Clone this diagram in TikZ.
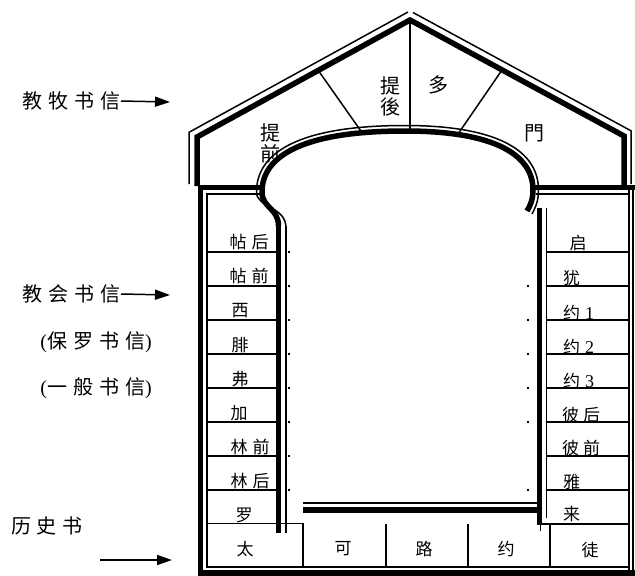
\documentclass[tikz,border=0pt]{standalone}
\usepackage{fontspec}
\setmainfont{Liberation Serif}
\newfontfamily\cjk{Noto Sans CJK SC}
\usetikzlibrary{arrows.meta}
\begin{document}
\begin{tikzpicture}[x=1pt,y=-1pt,
  wall/.style={line width=5.5pt, line join=miter},
  fine/.style={line width=1.5pt},
  rowl/.style={line width=1.4pt},
  lbl/.style={font=\cjk\fontsize{17}{17}\selectfont, inner sep=0pt},
  rooflbl/.style={font=\cjk\fontsize{20}{21}\selectfont, inner sep=0pt, align=center},
  side/.style={font=\cjk\fontsize{20}{20}\selectfont, inner sep=0pt},
  arr/.style={line width=1.5pt, -{Triangle[length=15pt,width=10pt]}},
  dotmark/.style={fill=black, minimum size=1.8pt, inner sep=0pt}]
\useasboundingbox (0,0) rectangle (635,576);
% roof
\draw[wall] (197,186) -- (197,137) -- (410,20) -- (624,136) -- (624,186);
\draw[fine] (189,184) -- (189,132.3) -- (408,12);
\draw[fine] (413,12.5) -- (631,130.8) -- (631,184);
% roof dividers
\draw[fine] (318,70) -- (363,134);
\draw[fine] (410,20) -- (410,132);
\draw[fine] (502,70) -- (458,134);
% main frame
\draw[wall] (263,187.5) -- (200.5,187.5) -- (200.5,573) -- (636,573);
\draw[wall] (533,187.5) -- (636,187.5);
\draw[fine] (629,190) -- (629,571);
\draw[fine] (633,190) -- (633,571);
\draw[fine] (264,194) -- (207,194) -- (207,567) -- (629,567);
\draw[fine] (536,194) -- (629,194);
% arch
\draw[wall] (278.5,226) .. controls (278.5,208) and (262,208) .. (262,192)
  .. controls (262,155) and (305,131) .. (405,131)
  .. controls (495,131) and (533,155) .. (533,190)
  .. controls (533,200) and (530,206) .. (527,211);
\draw[fine] (286,228) .. controls (286,206) and (256.5,208) .. (256.5,192)
  .. controls (256.5,151) and (302,125.5) .. (405,125.5)
  .. controls (498,125.5) and (538.5,151) .. (538.5,190)
  .. controls (538.5,202) and (535,208) .. (532,214);
% left column
\draw[wall] (278.5,224) -- (278.5,533);
\draw[fine] (286,226) -- (286,533);
\foreach \yy in {252,286,320,354,388,422,456,490}
  \draw[rowl] (207,\yy) -- (278,\yy);
\draw[fine] (207,523.5) -- (303,523.5) -- (303,567);
\foreach \yy in {252,286,320,354,388,422,456,490}
  \node[dotmark] at (289,\yy) {};
% right column
\draw[wall] (539.5,208) -- (539.5,523);
\draw[fine] (540.5,520) -- (540.5,531);
\draw[fine] (546.5,208) -- (546.5,518);
\foreach \yy in {252,286,320,354,388,422,456,490}
  \draw[rowl] (546,\yy) -- (629,\yy);
\foreach \yy in {286,320,354,388,422,490}
  \node[dotmark] at (528,\yy) {};
\draw[fine] (537,524) -- (629,524);
\draw[fine] (550,524) -- (550,567);
\draw[fine] (386,524) -- (386,567);
\draw[fine] (468,524) -- (468,567);
% bottom inner double line
\draw[fine] (303,503) -- (538,503);
\draw[wall] (303,510) -- (537,510);
% roof labels
\node[rooflbl] (tiqian) at (270,143.5) {提\\前};
\node[rooflbl] (tihou) at (390,96) {提\\後};
\node[rooflbl] (duo) at (438,85) {多};
\node[rooflbl] (men) at (534,133) {門};
% left column labels
\node[lbl] (l1) at (249,242) {帖\kern5pt 后};
\node[lbl] (l2) at (249,276) {帖\kern5pt 前};
\node[lbl] (l3) at (240,311) {西};
\node[lbl] (l4) at (240,345) {腓};
\node[lbl] (l5) at (240,379) {弗};
\node[lbl] (l6) at (239,413) {加};
\node[lbl] (l7) at (250,447) {林\kern5pt 前};
\node[lbl] (l8) at (250,481) {林\kern5pt 后};
\node[lbl] (l9) at (244,515) {罗};
\node[lbl] (b1) at (245,549) {太};
% right column labels
\node[lbl] (r1) at (578,243) {启};
\node[lbl, anchor=west] (r2) at (563,278) {犹};
\node[lbl, anchor=west] (r3) at (563,313) {约\kern5pt{\rmfamily\fontsize{18}{18}\selectfont 1}};
\node[lbl, anchor=west] (r4) at (563,347) {约\kern5pt{\rmfamily\fontsize{18}{18}\selectfont 2}};
\node[lbl, anchor=west] (r5) at (563,381) {约\kern5pt{\rmfamily\fontsize{18}{18}\selectfont 3}};
\node[lbl, anchor=west] (r6) at (562,415) {彼\kern4pt 后};
\node[lbl, anchor=west] (r7) at (562,448) {彼\kern4pt 前};
\node[lbl, anchor=west] (r8) at (563,482) {雅};
\node[lbl, anchor=west] (r9) at (563,514) {来};
% bottom row labels
\node[lbl] (b2) at (343,549) {可};
\node[lbl] (b3) at (424,549) {路};
\node[lbl] (b4) at (506,549) {约};
\node[lbl] (b5) at (590,550) {徒};
% side labels and arrows
\node[side, anchor=east] (s1) at (121,101) {教\kern6pt 牧\kern6pt 书\kern6pt 信};
\coordinate (s1end) at (170,102);
\draw[arr] (s1.east) -- (s1end);
\node[side, anchor=east] (s2) at (121,294) {教\kern6pt 会\kern6pt 书\kern6pt 信};
\coordinate (s2end) at (170,295);
\draw[arr] (s2.east) -- (s2end);
\node[side] (s3) at (96,342) {{\rmfamily(}保\kern6pt 罗\kern6pt 书\kern6pt 信{\rmfamily)}};
\node[side] (s4) at (96,388) {{\rmfamily(}一\kern6pt 般\kern6pt 书\kern6pt 信{\rmfamily)}};
\node[side] (s5) at (47,526) {历\kern6pt 史\kern6pt 书};
\coordinate (s5start) at (100,560);
\coordinate (s5end) at (172,560);
\draw[arr] (s5start) -- (s5end);
\end{tikzpicture}
\end{document}
